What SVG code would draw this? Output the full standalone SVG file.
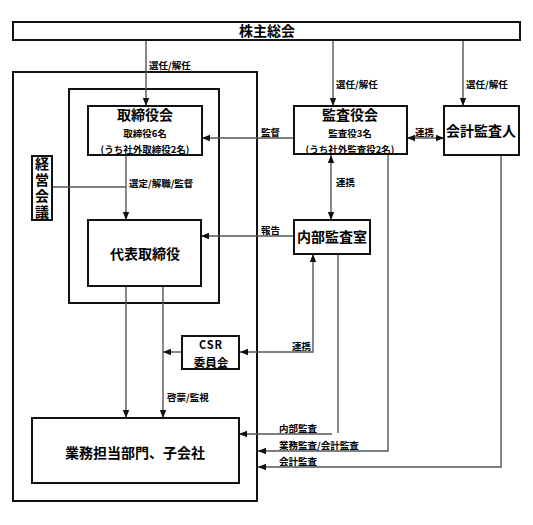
<svg xmlns="http://www.w3.org/2000/svg" width="533" height="525" viewBox="0 0 533 525">
<style>
.box{fill:#fff;stroke:#111;stroke-width:2}
.frame{fill:none;stroke:#111;stroke-width:2}
.ln{fill:none;stroke:#555;stroke-width:1.4}
.t{font-family:"Noto Sans CJK JP","Noto Sans CJK SC",sans-serif;font-weight:700;fill:#000}
.big{font-size:14px;text-anchor:middle}
.sm{font-size:9.5px;text-anchor:middle}
.lb{font-size:9.5px}
</style>
<defs>
<marker id="ah" viewBox="0 0 8 8" refX="8" refY="4" markerWidth="8" markerHeight="8" markerUnits="userSpaceOnUse" orient="auto-start-reverse">
<path d="M0,0.8 L8,4 L0,7.2 z" fill="#111"/>
</marker>
</defs>
<g id="frames">
<rect class="frame" x="13" y="72" width="244" height="429"/>
<rect class="frame" x="69" y="89" width="150" height="214"/>
</g>
<g id="connectors">
<path class="ln" d="M146,40 V106" marker-end="url(#ah)"/>
<path class="ln" d="M333,40 V106" marker-end="url(#ah)"/>
<path class="ln" d="M463,40 V106" marker-end="url(#ah)"/>
<path class="ln" d="M294,138 H202" marker-end="url(#ah)"/>
<path class="ln" d="M407,138 H444" marker-start="url(#ah)" marker-end="url(#ah)"/>
<path class="ln" d="M331,155 V220" marker-start="url(#ah)" marker-end="url(#ah)"/>
<path class="ln" d="M294,236 H201" marker-end="url(#ah)"/>
<path class="ln" d="M126,155 V220" marker-end="url(#ah)"/>
<path class="ln" d="M52,187 H126"/>
<path class="ln" d="M126,286 V418" marker-end="url(#ah)"/>
<path class="ln" d="M163,286 V418" marker-end="url(#ah)"/>
<path class="ln" d="M182,352 H163" marker-end="url(#ah)"/>
<path class="ln" d="M240,352 H313 V254" marker-start="url(#ah)" marker-end="url(#ah)"/>
<path class="ln" d="M338,254 V433"/>
<path class="ln" d="M332,434 H239" marker-end="url(#ah)"/>
<path class="ln" d="M388,154 V451 H258" marker-end="url(#ah)"/>
<path class="ln" d="M501,155 V467 H258" marker-end="url(#ah)"/>
<text class="t lb" x="149" y="69">選任/解任</text>
<text class="t lb" x="336" y="88">選任/解任</text>
<text class="t lb" x="466" y="88">選任/解任</text>
<text class="t lb" x="261" y="136">監督</text>
<text class="t lb" x="415" y="136">連携</text>
<text class="t lb" x="336" y="186">連携</text>
<text class="t lb" x="261" y="234">報告</text>
<text class="t lb" x="129" y="187">選定/解職/監督</text>
<text class="t lb" x="167" y="401">啓蒙/監視</text>
<text class="t lb" x="311" y="350" text-anchor="end">連携</text>
<text class="t lb" x="279" y="432">内部監査</text>
<text class="t lb" x="279" y="449">業務監査/会計監査</text>
<text class="t lb" x="279" y="465">会計監査</text>
</g>
<g id="kabunushi">
<rect class="box" x="13" y="22" width="507" height="18"/>
<text class="t big" x="267" y="36" font-size="13.5">株主総会</text>
</g>
<g id="torishimariyakukai">
<rect class="box" x="88" y="106" width="114" height="49"/>
<text class="t big" x="145" y="120">取締役会</text>
<text class="t sm" x="145" y="137">取締役6名</text>
<text class="t sm" x="145" y="153">(うち社外取締役2名)</text>
</g>
<g id="keiei">
<rect class="box" x="32" y="156" width="20" height="64"/>
<text class="t" x="42" y="157" font-size="14" writing-mode="vertical-rl" letter-spacing="1.8">経営会議</text>
</g>
<g id="daihyo">
<rect class="box" x="88" y="220" width="113" height="66"/>
<text class="t big" x="145" y="259">代表取締役</text>
</g>
<g id="kansayakukai">
<rect class="box" x="294" y="106" width="113" height="48"/>
<text class="t big" x="350" y="120">監査役会</text>
<text class="t sm" x="350" y="137">監査役3名</text>
<text class="t sm" x="350" y="153">(うち社外監査役2名)</text>
</g>
<g id="kaikei">
<rect class="box" x="444" y="106" width="75" height="49"/>
<text class="t big" x="481" y="136">会計監査人</text>
</g>
<g id="naibu">
<rect class="box" x="294" y="220" width="76" height="34"/>
<text class="t big" x="332" y="242">内部監査室</text>
</g>
<g id="csr">
<rect class="box" x="182" y="336" width="57" height="33"/>
<text class="t" x="211" y="349" font-size="11" text-anchor="middle" letter-spacing="1">CSR</text>
<text class="t" x="211" y="367" font-size="11.5" text-anchor="middle">委員会</text>
</g>
<g id="gyomu">
<rect class="box" x="32" y="418" width="207" height="65"/>
<text class="t big" x="135" y="458" font-size="13.5">業務担当部門、子会社</text>
</g>
</svg>
